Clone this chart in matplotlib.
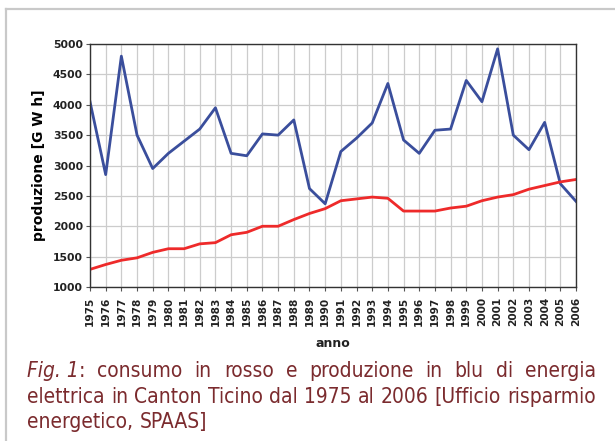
import matplotlib
matplotlib.use('Agg')
import matplotlib.pyplot as plt
from matplotlib.lines import Line2D

# data
anni = list(range(1975, 2007))
produzione = [4050, 2850, 4800, 3500, 2950, 3200, 3400, 3600, 3950, 3200,
              3160, 3520, 3500, 3750, 2620, 2370, 3230, 3450, 3700, 4350,
              3420, 3200, 3580, 3600, 4400, 4050, 4920, 3500, 3260, 3710,
              2700, 2410]
consumo = [1290, 1370, 1440, 1480, 1570, 1630, 1630, 1710, 1730, 1860,
           1900, 2000, 2000, 2110, 2210, 2290, 2420, 2450, 2480, 2460,
           2250, 2250, 2250, 2300, 2330, 2420, 2480, 2520, 2610, 2670,
           2730, 2770]
y_ticks = [1000, 1500, 2000, 2500, 3000, 3500, 4000, 4500, 5000]

caption_lines = [
    ['Fig. 1', ':', 'consumo', 'in', 'rosso', 'e', 'produzione', 'in', 'blu', 'di', 'energia'],
    ['elettrica', 'in', 'Canton', 'Ticino', 'dal', '1975', 'al', '2006', '[Ufficio', 'risparmio'],
    ['energetico,', 'SPAAS]'],
]

fig = plt.figure(figsize=(6.15, 4.41), dpi=100)
W, H = 615, 441

# cornice esterna
fig.add_artist(Line2D([6 / W, 6 / W], [0, 1 - 9 / H], color='#c9c9c9', lw=1.6,
                      transform=fig.transFigure))
fig.add_artist(Line2D([6 / W, 1], [1 - 9 / H, 1 - 9 / H], color='#c9c9c9', lw=1.6,
                      transform=fig.transFigure))

ax = fig.add_axes([90 / W, 1 - 287 / H, 486 / W, 243 / H])
ax.plot(anni, produzione, color='#3a4e9c', lw=2)
ax.plot(anni, consumo, color='#ee2a2a', lw=2)

ax.set_xlim(1975, 2006)
ax.set_ylim(1000, 5000)
ax.set_xticks(anni)
ax.set_xticklabels([str(a) for a in anni], rotation=90, fontsize=7.6,
                   fontweight='bold', color='#222222')
ax.set_yticks(y_ticks)
ax.set_yticklabels([str(v) for v in y_ticks], fontsize=7.8, fontweight='bold',
                   color='#222222')
ax.grid(True, color='#cccccc', lw=0.9)
ax.set_axisbelow(True)
for s in ax.spines.values():
    s.set_color('#333333')
    s.set_linewidth(1)
ax.tick_params(axis='both', length=3, width=0.8, color='#555555', pad=2)
ax.tick_params(axis='x', pad=4)

ax.set_ylabel('produzione [G W h]', fontsize=10, fontweight='bold', labelpad=5)
ax.set_xlabel('anno', fontsize=9, fontweight='bold', labelpad=8, color='#222222')

# didascalia giustificata
fig.canvas.draw()
renderer = fig.canvas.get_renderer()
x_left, x_right = 27, 596
baselines = [377, 403, 428]
col = '#7b2b2e'
fs = 15
for i, words in enumerate(caption_lines):
    texts = []
    for j, w in enumerate(words):
        style = 'italic' if (i == 0 and j == 0) else 'normal'
        t = fig.text(0, 1 - baselines[i] / H, w, fontsize=fs, color=col,
                     family='DejaVu Sans', fontstretch='condensed',
                     style=style, va='baseline', ha='left')
        texts.append(t)
    widths = [t.get_window_extent(renderer).width for t in texts]
    if i < 2:
        # "Fig. 1" e ":" restano attaccati
        n_gaps = len(words) - 1 - (1 if i == 0 else 0)
        gap = (x_right - x_left - sum(widths)) / n_gaps
    else:
        gap = renderer.points_to_pixels(fs) * 0.3
    x = x_left
    for j, t in enumerate(texts):
        t.set_x(x / W)
        x += widths[j]
        if not (i == 0 and j == 0):
            x += gap

fig.savefig('out.png', dpi=100)
